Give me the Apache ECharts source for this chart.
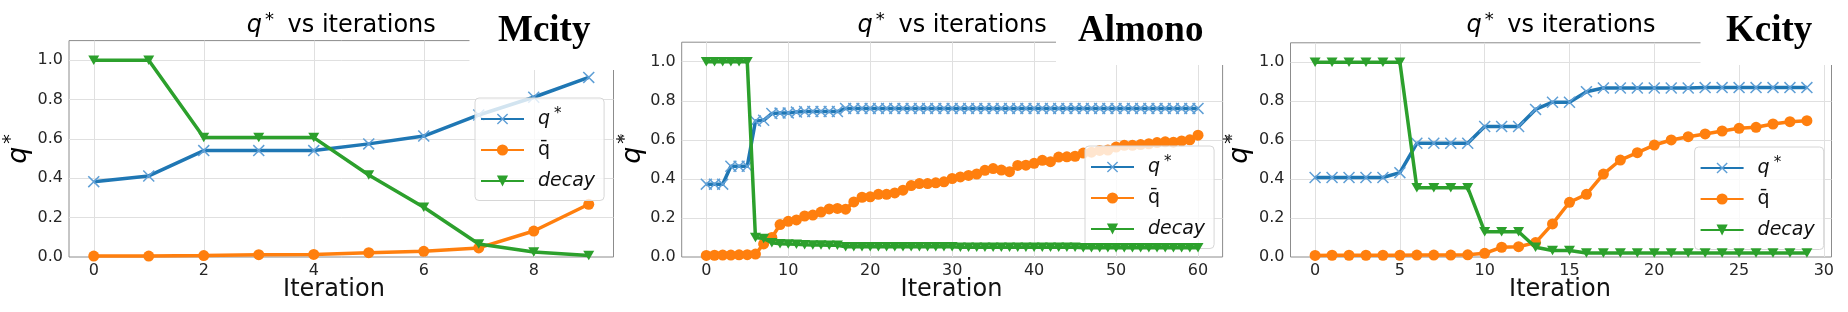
<!DOCTYPE html>
<html>
<head>
<meta charset="utf-8">
<script src="https://cdn.jsdelivr.net/npm/echarts@6/dist/echarts.min.js"></script>
<style>
html,body{margin:0;padding:0;background:#fff;}
#c{width:1848px;height:312px;}
</style>
</head>
<body>
<div id="c"></div>
<script>
// ---------- data ----------
const panelNames = ['Mcity', 'Almono', 'Kcity'];
const seriesNames = ['q*', 'q\u0304', 'decay'];

// Mcity (iterations 0..9)
const mcityQStar = [0.383, 0.412, 0.541, 0.541, 0.541, 0.575, 0.615, 0.722, 0.812, 0.913];
const mcityQBar  = [0.005, 0.005, 0.007, 0.012, 0.013, 0.022, 0.029, 0.046, 0.132, 0.268];
const mcityDecay = [1.0, 1.0, 0.607, 0.607, 0.607, 0.417, 0.253, 0.066, 0.025, 0.008];

// Almono (iterations 0..60)
const almonoQStar = [0.373, 0.373, 0.373, 0.465, 0.465, 0.465, 0.696, 0.700, 0.735, 0.737,
  0.738, 0.742, 0.745, 0.745, 0.745, 0.745, 0.745, 0.761, 0.761, 0.761,
  0.761, 0.761, 0.761, 0.761, 0.761, 0.761, 0.761, 0.761, 0.761, 0.761,
  0.761, 0.761, 0.761, 0.761, 0.761, 0.761, 0.761, 0.761, 0.761, 0.761,
  0.761, 0.761, 0.761, 0.761, 0.761, 0.761, 0.761, 0.761, 0.761, 0.761,
  0.761, 0.761, 0.761, 0.761, 0.761, 0.761, 0.761, 0.761, 0.761, 0.761, 0.761];
const almonoQBar = [0.008, 0.009, 0.010, 0.010, 0.011, 0.012, 0.015, 0.067, 0.100, 0.166,
  0.183, 0.190, 0.210, 0.215, 0.230, 0.246, 0.249, 0.245, 0.282, 0.306,
  0.308, 0.321, 0.321, 0.328, 0.342, 0.366, 0.376, 0.376, 0.380, 0.385,
  0.402, 0.410, 0.418, 0.425, 0.444, 0.453, 0.445, 0.437, 0.469, 0.470,
  0.480, 0.495, 0.488, 0.512, 0.513, 0.516, 0.532, 0.537, 0.546, 0.548,
  0.563, 0.572, 0.572, 0.576, 0.580, 0.586, 0.590, 0.588, 0.594, 0.600, 0.624];
const almonoDecay = [1.0, 1.0, 1.0, 1.0, 1.0, 1.0, 0.100, 0.095, 0.073, 0.068,
  0.066, 0.065, 0.063, 0.062, 0.061, 0.060, 0.060, 0.052, 0.052, 0.052,
  0.052, 0.052, 0.052, 0.052, 0.052, 0.052, 0.052, 0.052, 0.052, 0.052,
  0.052, 0.050, 0.050, 0.050, 0.050, 0.050, 0.050, 0.050, 0.050, 0.050,
  0.050, 0.050, 0.050, 0.050, 0.050, 0.050, 0.047, 0.047, 0.047, 0.047,
  0.047, 0.047, 0.047, 0.047, 0.047, 0.047, 0.047, 0.047, 0.047, 0.047, 0.047];

// Kcity (iterations 0..29)
const kcityQStar = [0.408, 0.408, 0.408, 0.408, 0.408, 0.433, 0.584, 0.584, 0.584, 0.584,
  0.670, 0.670, 0.670, 0.758, 0.795, 0.795, 0.849, 0.868, 0.868, 0.868,
  0.868, 0.868, 0.868, 0.870, 0.870, 0.870, 0.870, 0.870, 0.870, 0.870];
const kcityQBar = [0.008, 0.009, 0.009, 0.009, 0.009, 0.009, 0.010, 0.010, 0.010, 0.011,
  0.019, 0.050, 0.053, 0.074, 0.170, 0.281, 0.322, 0.426, 0.498, 0.536,
  0.575, 0.601, 0.618, 0.632, 0.647, 0.661, 0.666, 0.683, 0.695, 0.700];
const kcityDecay = [1.0, 1.0, 1.0, 1.0, 1.0, 1.0, 0.356, 0.356, 0.356, 0.356,
  0.130, 0.130, 0.130, 0.050, 0.033, 0.033, 0.020, 0.020, 0.020, 0.020,
  0.020, 0.020, 0.020, 0.020, 0.020, 0.020, 0.020, 0.020, 0.020, 0.020];

const xTickStep = [2, 10, 5];

// ---------- layout / style ----------
const FONT = 'DejaVu Sans';
const BLUE = '#1f77b4', ORANGE = '#ff7f0e', GREEN = '#2ca02c';
const XSYM = 'path://M0,1.06L1.06,0L6,4.94L10.94,0L12,1.06L7.06,6L12,10.94L10.94,12L6,7.06L1.06,12L0,10.94L4.94,6Z';
const TRI = 'path://M0,0L10,0L5,8.66Z';

const grids = [
  {left: 69, top: 40.6, width: 544.5, height: 216.4},
  {left: 681.7, top: 42.2, width: 540.9, height: 214.8},
  {left: 1290.5, top: 42.8, width: 541, height: 214.2}
];
const xRanges = [[-0.45, 9.45], [-3, 63], [-1.45, 30.45]];
const legendPos = [[475, 98], [1085, 146], [1694.6, 147]];
const panelData = [
  [mcityQStar, mcityQBar, mcityDecay],
  [almonoQStar, almonoQBar, almonoDecay],
  [kcityQStar, kcityQBar, kcityDecay]
];

function pts(arr) { return arr.map((v, i) => [i, v]); }

const chart = echarts.init(document.getElementById('c'), null, {renderer: 'canvas'});

const xAxes = [], yAxes = [], series = [], legends = [], gridOpts = [];
for (let g = 0; g < 3; g++) {
  gridOpts.push(Object.assign({show: true, borderColor: '#8c8c8c', borderWidth: 1, backgroundColor: 'transparent', containLabel: false}, grids[g]));
  xAxes.push({
    type: 'value', gridIndex: g, min: xRanges[g][0], max: xRanges[g][1],
    minInterval: xTickStep[g], maxInterval: xTickStep[g],
    axisLine: {show: false}, axisTick: {show: false},
    splitLine: {show: true, showMinLine: false, showMaxLine: false, lineStyle: {color: '#e0e0e0', width: 1}},
    axisLabel: {showMinLabel: false, showMaxLabel: false, margin: 6, fontFamily: FONT, fontSize: 16, color: '#262626',
      formatter: v => String(Math.round(v))}
  });
  yAxes.push({
    type: 'value', gridIndex: g, min: 0, max: 1.1, interval: 0.2,
    axisLine: {show: false}, axisTick: {show: false},
    splitLine: {show: true, showMinLine: false, showMaxLine: false, lineStyle: {color: '#e0e0e0', width: 1}},
    axisLabel: {showMaxLabel: false, margin: 6, fontFamily: FONT, fontSize: 16, color: '#262626',
      formatter: v => v.toFixed(1)}
  });
  const [qs, qb, dc] = panelData[g];
  series.push({
    name: seriesNames[0], type: 'line', xAxisIndex: g, yAxisIndex: g, data: pts(qs),
    symbol: XSYM, symbolSize: 12, itemStyle: {color: '#5f9fd6'},
    lineStyle: {color: BLUE, width: 3.5}, animation: false, z: 2
  });
  series.push({
    name: seriesNames[1], type: 'line', xAxisIndex: g, yAxisIndex: g, data: pts(qb),
    symbol: 'circle', symbolSize: 11, itemStyle: {color: ORANGE},
    lineStyle: {color: ORANGE, width: 3.5}, animation: false, z: 3
  });
  series.push({
    name: seriesNames[2], type: 'line', xAxisIndex: g, yAxisIndex: g, data: pts(dc),
    symbol: TRI, symbolSize: [11, 9.5], itemStyle: {color: GREEN},
    lineStyle: {color: GREEN, width: 3.5}, animation: false, z: 4
  });
  legends.push({
    orient: 'vertical', left: legendPos[g][0], top: legendPos[g][1],
    data: seriesNames, itemWidth: 43, itemHeight: 14, itemGap: 12,
    padding: [9, 9, 10, 5], backgroundColor: 'rgba(255,255,255,0.8)',
    borderColor: '#d6d6d6', borderWidth: 1, borderRadius: 4, selectedMode: false,
    formatter: function (name) {
      if (name === seriesNames[0]) return '{g|}{i|q}{s|*}';
      if (name === seriesNames[1]) return '{g|}{n|' + name + '}';
      return '{g|}{i|decay}';
    },
    textStyle: {
      rich: {
        g: {width: 9, lineHeight: 24},
        i: {fontFamily: FONT, fontStyle: 'italic', fontSize: 19, color: '#111', lineHeight: 24},
        n: {fontFamily: FONT, fontSize: 19, color: '#111', lineHeight: 24},
        s: {fontFamily: FONT, fontSize: 15, color: '#111', verticalAlign: 'top', lineHeight: 24, padding: [0, 0, 0, 4]}
      }
    }
  });
}

// ---------- texts & overlays ----------
const titleRich = {
  q: {fontFamily: FONT, fontStyle: 'italic', fontSize: 24, color: '#111', lineHeight: 30},
  s: {fontFamily: FONT, fontSize: 18, color: '#111', verticalAlign: 'top', lineHeight: 30, padding: [0, 6, 0, 3]},
  t: {fontFamily: FONT, fontSize: 24, color: '#111', lineHeight: 30}
};
const ylabRich = {
  q: {fontFamily: FONT, fontStyle: 'italic', fontSize: 27, color: '#111', lineHeight: 34},
  s: {fontFamily: FONT, fontSize: 19, color: '#111', verticalAlign: 'top', lineHeight: 34, padding: [0, 0, 0, 3]}
};
const coverRects = [[469.5, 0, 152, 70], [1056, 0, 180, 65], [1700.5, 0, 148, 65]];
const nameX = [498, 1078, 1726];
const ylabX = [18.6, 632.6, 1240];
const xlabX = [334, 951.5, 1560];
const graphics = [];
for (let g = 0; g < 3; g++) {
  const cx = grids[g].left + grids[g].width / 2;
  graphics.push({type: 'rect', z: 100, shape: {x: coverRects[g][0], y: coverRects[g][1], width: coverRects[g][2], height: coverRects[g][3]},
    style: {fill: '#fff'}});
  graphics.push({type: 'text', z: 101, x: cx, y: 26, style: {text: '{q|q}{s|*}{t| vs iterations}', rich: titleRich, align: 'center', verticalAlign: 'middle'}});
  graphics.push({type: 'text', z: 101, x: nameX[g], y: 31, style: {text: panelNames[g], fontFamily: 'Liberation Serif', fontWeight: 'bold', fontSize: 37, fill: '#000', align: 'left', verticalAlign: 'middle'}});
  graphics.push({type: 'text', z: 101, x: xlabX[g], y: 290, style: {text: 'Iteration', fontFamily: FONT, fontSize: 24, fill: '#111', align: 'center', verticalAlign: 'middle'}});
  graphics.push({type: 'text', z: 101, x: ylabX[g], y: 149, rotation: Math.PI / 2, style: {text: '{q|q}{s|*}', rich: ylabRich, align: 'center', verticalAlign: 'middle'}});
}
graphics.push({type: 'text', z: 101, x: 621, y: 142, style: {text: '*', fontFamily: FONT, fontSize: 15, fill: '#444', align: 'center', verticalAlign: 'middle'}});
graphics.push({type: 'text', z: 101, x: 1229, y: 142, style: {text: '*', fontFamily: FONT, fontSize: 15, fill: '#444', align: 'center', verticalAlign: 'middle'}});

chart.setOption({
  animation: false,
  backgroundColor: '#fff',
  grid: gridOpts,
  xAxis: xAxes,
  yAxis: yAxes,
  legend: legends,
  series: series,
  graphic: graphics
});
</script>
</body>
</html>
